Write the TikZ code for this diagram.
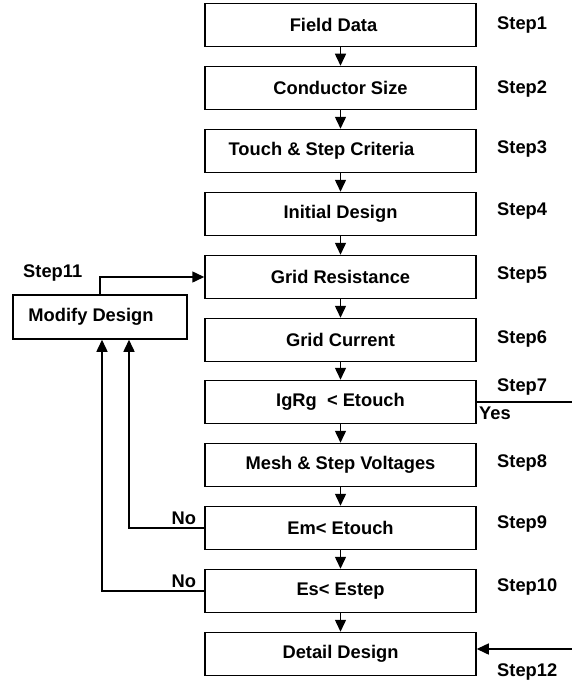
\documentclass[tikz,border=0pt]{standalone}
\usepackage{fontspec}
\setmainfont{Liberation Sans}
\usetikzlibrary{arrows.meta}
\begin{document}
\begin{tikzpicture}[x=1pt,y=-1pt,
  txt/.style={font=\fontsize{18.3}{21}\selectfont\bfseries},
  box/.style={draw, line width=1.5pt, minimum width=271pt, minimum height=43pt, inner sep=0pt, txt},
  lbl/.style={anchor=west, inner sep=0pt, txt},
  arr/.style={-{Triangle[length=12pt,width=11pt]}, line width=1.5pt},
  conn/.style={line width=1.5pt}]
\useasboundingbox (0,0) rectangle (572,685);
\fill[white] (0,0) rectangle (572,685);

\node[box] (b1) at (340.5,25) {\hspace*{-14pt}Field Data};
\node[box] (b2) at (340.5,88) {Conductor Size};
\node[box] (b3) at (340.5,151) {\hspace*{-38pt}Touch \& Step Criteria};
\node[box] (b4) at (340.5,214) {Initial Design};
\node[box] (b5) at (340.5,277) {Grid Resistance};
\node[box] (b6) at (340.5,340) {Grid Current};
\node[box] (b7) at (340.5,402) {IgRg~~< Etouch};
\node[box] (b8) at (340.5,465) {Mesh \& Step Voltages};
\node[box] (b9) at (340.5,528) {Em< Etouch};
\node[box] (b10) at (340.5,591) {Es< Estep};
\node[box] (b11) at (340.5,654) {Detail Design};

\node[box, minimum width=174pt, minimum height=44pt] (md) at (100,317) {\hspace*{-18pt}Modify Design};

\foreach \a/\b in {b1/b2,b2/b3,b3/b4,b4/b5,b5/b6,b6/b7,b7/b8,b8/b9,b9/b10,b10/b11}
  \draw[arr] (\a) -- (\b);

\node[lbl] (s1) at (497,25) {Step1};
\node[lbl] (s2) at (497,89) {Step2};
\node[lbl] (s3) at (497,149) {Step3};
\node[lbl] (s4) at (497,211) {Step4};
\node[lbl] (s5) at (497,275) {Step5};
\node[lbl] (s6) at (497,339) {Step6};
\node[lbl] (s7) at (497,387) {Step7};
\node[lbl] (yes) at (479,413) {Yes};
\node[lbl] (s8) at (497,463) {Step8};
\node[lbl] (s9) at (497,524) {Step9};
\node[lbl] (s10) at (497,587) {Step10};
\node[lbl] (s11) at (23,273) {Step11};
\node[lbl] (s12) at (497,672) {Step12};

% Step11 feedback
\draw[arr] (md.north) |- (b5.west);

% No branches
\draw[arr] (b9.west) -| ([xshift=29pt]md.south);
\draw[arr] (b10.west) -| ([xshift=2pt]md.south);
\node[txt, anchor=south east, inner sep=0pt] (no9) at ([xshift=-8pt,yshift=3pt]b9.west) {No};
\node[txt, anchor=south east, inner sep=0pt] (no10) at ([xshift=-8pt,yshift=3pt]b10.west) {No};

% Step7 yes exit
\coordinate (e7) at (572,402);
\draw[conn] (b7.east) -- (e7);

% Step12 entry
\coordinate (e12) at (572,649);
\draw[arr] (e12) -- (b11.east |- e12);
\end{tikzpicture}
\end{document}
